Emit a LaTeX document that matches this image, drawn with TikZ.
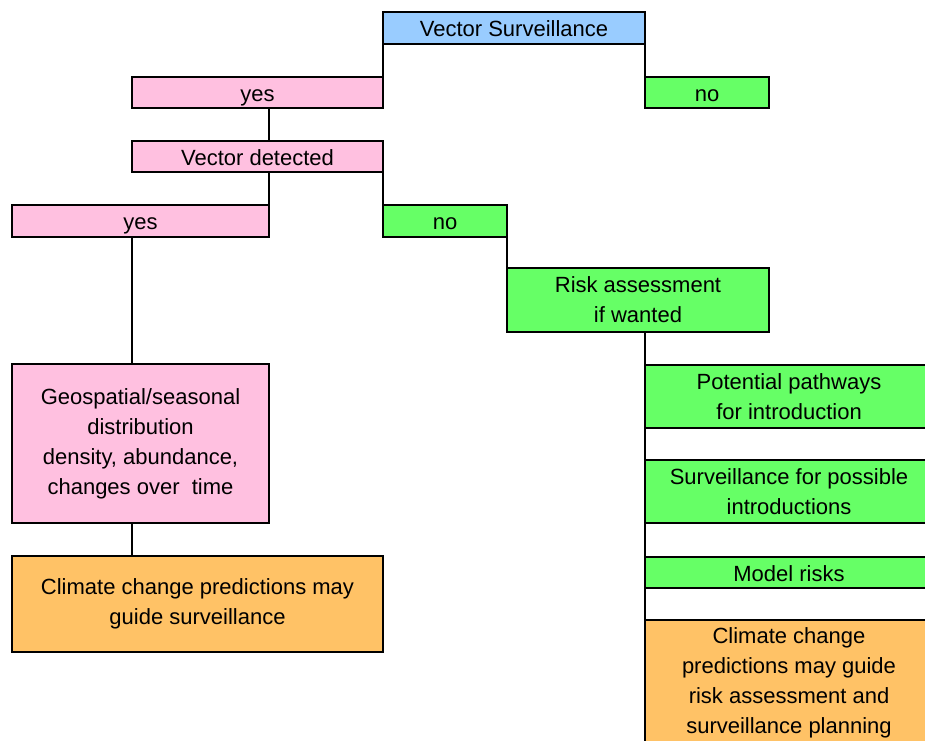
\documentclass[tikz,border=0pt]{standalone}
\usepackage{fontspec}
\setmainfont{Liberation Sans}
\definecolor{vsblue}{HTML}{99CCFF}
\definecolor{pinkbox}{HTML}{FFC0E0}
\definecolor{greenbox}{HTML}{66FF66}
\definecolor{orangebox}{HTML}{FFC266}
\begin{document}
\begin{tikzpicture}[x=1pt,y=-1pt,
  box/.style={draw=black, line width=1.6pt, inner sep=0pt, outer sep=0pt,
    anchor=north west, align=center, font=\fontsize{22}{30}\selectfont},
  oneline/.style={text height=22pt, text depth=5pt},
  conn/.style={draw=black, line width=1.6pt}]
\useasboundingbox (0,0) rectangle (925,740);
\node[box, oneline, fill=vsblue, minimum width=262pt, minimum height=32pt] (VS) at (383,12) {Vector Surveillance};
\node[box, oneline, fill=pinkbox, minimum width=251pt, minimum height=31pt] (yes1) at (132,77) {yes};
\node[box, oneline, fill=greenbox, minimum width=124pt, minimum height=31pt] (no1) at (645,77) {no};
\node[box, oneline, fill=pinkbox, minimum width=251pt, minimum height=31pt] (VD) at (132,141) {Vector detected};
\node[box, oneline, fill=pinkbox, minimum width=257pt, minimum height=32pt] (yes2) at (12,205) {yes};
\node[box, oneline, fill=greenbox, minimum width=124pt, minimum height=32pt] (no2) at (383,205) {no};
\node[box, fill=greenbox, minimum width=262pt, minimum height=64pt] (RA) at (507,268) {Risk assessment\\if wanted};
\node[box, fill=pinkbox, minimum width=257pt, minimum height=159pt] (GEO) at (12,364) {Geospatial/seasonal\\distribution\\density, abundance,\\changes over\ \ time};
\node[box, fill=orangebox, minimum width=371pt, minimum height=96pt] (CL) at (12,556) {Climate change predictions may\\guide surveillance};
\node[box, fill=greenbox, minimum width=288pt, minimum height=63pt] (PP) at (645,365) {Potential pathways\\for introduction};
\node[box, fill=greenbox, minimum width=288pt, minimum height=63pt] (SP) at (645,460) {Surveillance for possible\\introductions};
\node[box, oneline, fill=greenbox, minimum width=288pt, minimum height=31pt] (MR) at (645,557) {Model risks};
\node[box, fill=orangebox, minimum width=288pt, minimum height=126pt] (CR) at (645,620) {Climate change\\predictions may guide\\risk assessment and\\surveillance planning};
% connectors
\draw[conn] (VS.south west) -- (yes1.north east);
\draw[conn] (VS.south east) -- (no1.north west);
\draw[conn] (yes1.south -| yes2.east) -- (VD.north -| yes2.east);
\draw[conn] (VD.south -| yes2.east) -- (yes2.north east);
\draw[conn] (VD.south east) -- (no2.north west);
\draw[conn] (no2.south east) -- (RA.north west);
\draw[conn] (yes2.south -| VD.west) -- (GEO.north -| VD.west);
\draw[conn] (GEO.south -| VD.west) -- (CL.north -| VD.west);
\draw[conn] (RA.south -| PP.west) -- (CR.north west);
\end{tikzpicture}
\end{document}
